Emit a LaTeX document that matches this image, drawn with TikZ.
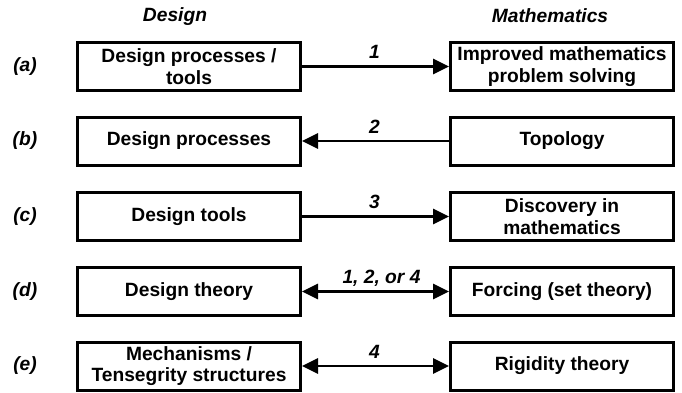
\documentclass[tikz,border=0pt]{standalone}
\usepackage{fontspec}
\setmainfont{Liberation Sans}
\usetikzlibrary{arrows.meta,positioning}
\newcommand{\txtsize}{\fontsize{19.2}{21.5}\selectfont}
\tikzset{
  box/.style={draw=black,line width=3pt,minimum width=223pt,minimum height=48pt,
    inner sep=1pt,align=center,font=\bfseries\txtsize},
  hdr/.style={font=\bfseries\itshape\txtsize,inner sep=0pt},
  arr/.style={-{Triangle[length=16pt,width=15pt]},line width=2.8pt},
  dbl/.style={{Triangle[length=16pt,width=15pt]}-{Triangle[length=16pt,width=15pt]},line width=2.8pt},
  lbl/.style={font=\bfseries\itshape\txtsize,inner sep=0pt,anchor=base,yshift=8pt},
}

\begin{document}
\begin{tikzpicture}[x=1pt,y=-1pt]
  \useasboundingbox (0,0) rectangle (682,392);
  % column headers
  \node[hdr] (hdrD) at (175,17) {Design};
  \node[hdr] (hdrM) at (550,16) {Mathematics};
  % row labels
  \node[hdr] (rowA) at (25,66.5) {(a)};
  \node[hdr] (rowB) at (25,141) {(b)};
  \node[hdr] (rowC) at (25,216.5) {(c)};
  \node[hdr] (rowD) at (25,291.5) {(d)};
  \node[hdr] (rowE) at (25,366) {(e)};
  % design side
  \node[box] (desA) at (189,66.5) {Design processes /\\tools};
  \node[box] (desB) at (189,141) {Design processes};
  \node[box] (desC) at (189,216.5) {Design tools};
  \node[box] (desD) at (189,291.5) {Design theory};
  \node[box] (desE) at (189,366) {Mechanisms /\\Tensegrity structures};
  % mathematics side
  \node[box] (matA) at (562,66.5) {Improved mathematics\\problem solving};
  \node[box] (matB) at (562,141) {Topology};
  \node[box] (matC) at (562,216.5) {Discovery in\\mathematics};
  \node[box] (matD) at (562,291.5) {Forcing (set theory)};
  \node[box] (matE) at (562,366) {Rigidity theory};
  % connections
  \draw[arr] (desA) -- node[lbl,xshift=-1pt] {1} (matA);
  \draw[arr] (matB) -- node[lbl,xshift=-1pt] {2} (desB);
  \draw[arr] (desC) -- node[lbl,xshift=-1pt] {3} (matC);
  \draw[dbl] (desD) -- node[lbl,xshift=6pt] {1, 2, or 4} (matD);
  \draw[dbl] (desE) -- node[lbl,xshift=-1pt] {4} (matE);
\end{tikzpicture}
\end{document}
